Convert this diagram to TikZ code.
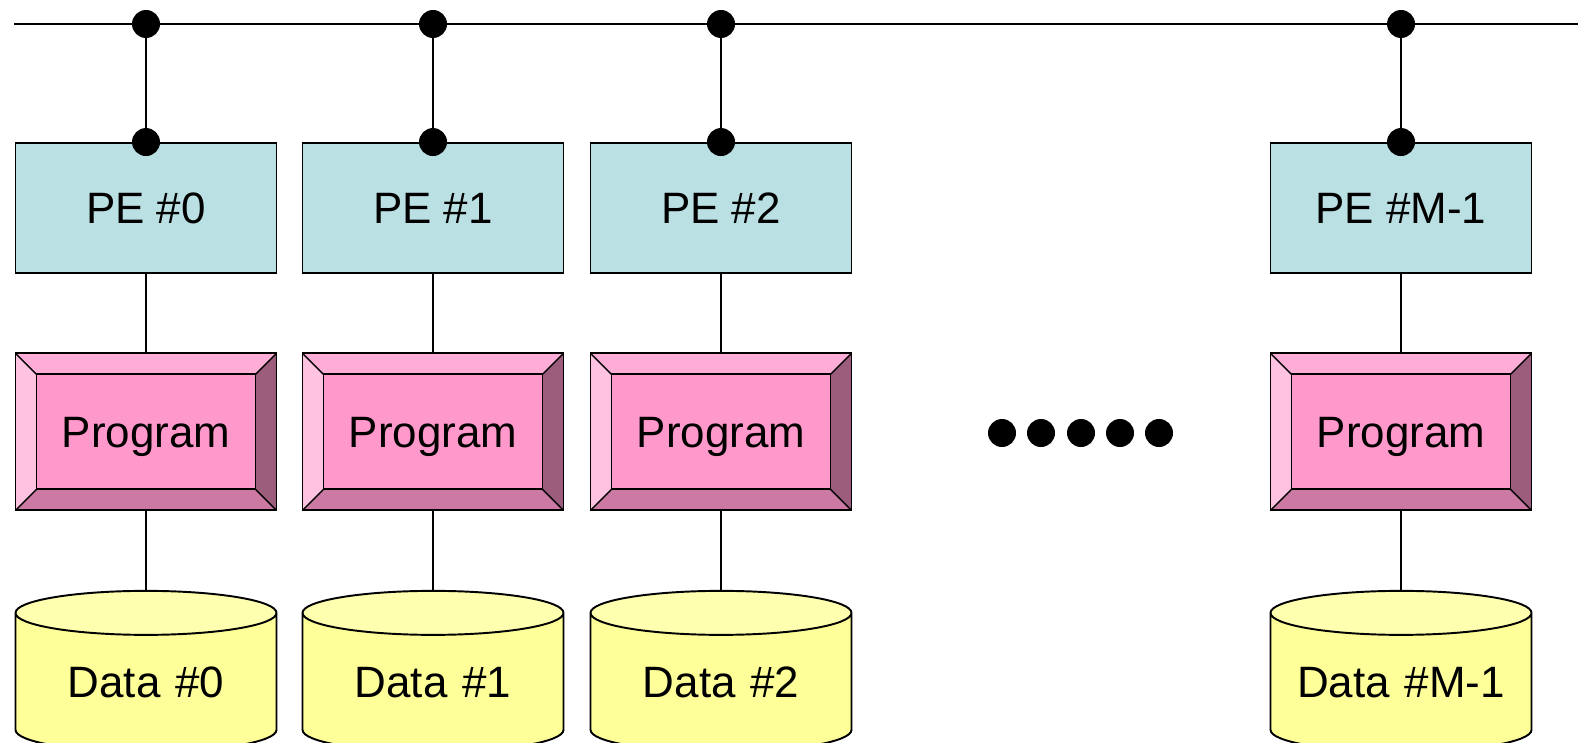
\documentclass[tikz,border=0pt]{standalone}
\usepackage{fontspec}
\setmainfont{Liberation Sans}
\usetikzlibrary{positioning,shapes.geometric}
\definecolor{pefill}{HTML}{BAE0E3}
\definecolor{progmid}{HTML}{FF99CC}
\definecolor{progtop}{HTML}{FFADD6}
\definecolor{progleft}{HTML}{FFC2E0}
\definecolor{progright}{HTML}{9C5C7C}
\definecolor{progbottom}{HTML}{CC7AA3}
\definecolor{datafill}{HTML}{FFFF99}
\definecolor{datatop}{HTML}{FFFFB0}
\begin{document}
\begin{tikzpicture}
        [
        trim left=0cm, trim right=31.56cm,
        font=\fontsize{25}{30}\selectfont,
        node distance=1.57cm,
        link/.style={line width=0.8pt},
        bus/.style={line width=1.6pt},
        tap/.style={circle, fill=black, inner sep=0pt, minimum size=0.56cm},
        pe/.style={rectangle, draw, line width=1.1pt, fill=pefill,
            minimum width=5.22cm, minimum height=2.6cm},
        program/.style={rectangle, draw, line width=1.1pt, fill=progmid,
            minimum width=5.22cm, minimum height=3.14cm, text depth=0pt,
            path picture={
              \fill[progtop] (path picture bounding box.north west) -- (path picture bounding box.north east)
                -- ([shift={(-.42,-.42)}]path picture bounding box.north east) -- ([shift={(.42,-.42)}]path picture bounding box.north west) -- cycle;
              \fill[progleft] (path picture bounding box.north west) -- (path picture bounding box.south west)
                -- ([shift={(.42,.42)}]path picture bounding box.south west) -- ([shift={(.42,-.42)}]path picture bounding box.north west) -- cycle;
              \fill[progright] (path picture bounding box.north east) -- (path picture bounding box.south east)
                -- ([shift={(-.42,.42)}]path picture bounding box.south east) -- ([shift={(-.42,-.42)}]path picture bounding box.north east) -- cycle;
              \fill[progbottom] (path picture bounding box.south west) -- (path picture bounding box.south east)
                -- ([shift={(-.42,.42)}]path picture bounding box.south east) -- ([shift={(.42,.42)}]path picture bounding box.south west) -- cycle;
              \draw[line width=1.1pt] ([shift={(.42,-.42)}]path picture bounding box.north west) rectangle ([shift={(-.42,.42)}]path picture bounding box.south east);
              \draw[line width=0.8pt] (path picture bounding box.north west) -- ++(.42,-.42)
                (path picture bounding box.north east) -- ++(-.42,-.42)
                (path picture bounding box.south west) -- ++(.42,.42)
                (path picture bounding box.south east) -- ++(-.42,.42);
            }},
        data/.style={cylinder, shape border rotate=90, aspect=0.2, draw, line width=1.1pt,
            inner sep=0pt, text width=4.4cm, align=center,
            minimum width=5.22cm, minimum height=3.22cm,
            cylinder uses custom fill, cylinder body fill=datafill, cylinder end fill=datatop},
        ]
        \useasboundingbox (0,0) rectangle (31.56,-14.84);
        \clip (0,0) rectangle (31.56,-14.84);
        \coordinate (busL) at (0.28,-0.48);
        \coordinate (busR) at (31.56,-0.48);
        \draw[bus] (busL) -- (busR);

        \node[pe] (pe0) at (2.92,-4.16) {PE \#0};
        \node[pe] (pe1) at (8.66,-4.16) {PE \#1};
        \node[pe] (pe2) at (14.42,-4.16) {PE \#2};
        \node[pe] (peM) at (28.02,-4.16) {PE \#M-1};

        \node[program, below=of pe0] (prog0) {Program};
        \node[program, below=of pe1] (prog1) {Program};
        \node[program, below=of pe2] (prog2) {Program};
        \node[program, below=of peM] (progM) {Program};

        \node[data, below=of prog0] (data0) {Data \#0};
        \node[data, below=of prog1] (data1) {Data \#1};
        \node[data, below=of prog2] (data2) {Data \#2};
        \node[data, below=of progM] (dataM) {Data \#M-1};

        % links from the bus down to the data
        \draw[link] (pe0.north |- busL) -- (pe0.north) (pe0) -- (prog0) (prog0) -- (data0);
        \draw[link] (pe1.north |- busL) -- (pe1.north) (pe1) -- (prog1) (prog1) -- (data1);
        \draw[link] (pe2.north |- busL) -- (pe2.north) (pe2) -- (prog2) (prog2) -- (data2);
        \draw[link] (peM.north |- busL) -- (peM.north) (peM) -- (progM) (progM) -- (dataM);

        \node[tap] (bus0) at (pe0.north |- busL) {};
        \node[tap] (bus1) at (pe1.north |- busL) {};
        \node[tap] (bus2) at (pe2.north |- busL) {};
        \node[tap] (busM) at (peM.north |- busL) {};
        \node[tap] (tap0) at (pe0.north) {};
        \node[tap] (tap1) at (pe1.north) {};
        \node[tap] (tap2) at (pe2.north) {};
        \node[tap] (tapM) at (peM.north) {};

        \node[tap] (more1) at (20.04,-8.66) {};
        \node[tap] (more2) at (20.82,-8.66) {};
        \node[tap] (more3) at (21.62,-8.66) {};
        \node[tap] (more4) at (22.40,-8.66) {};
        \node[tap] (more5) at (23.18,-8.66) {};
        \end{tikzpicture}
\end{document}
